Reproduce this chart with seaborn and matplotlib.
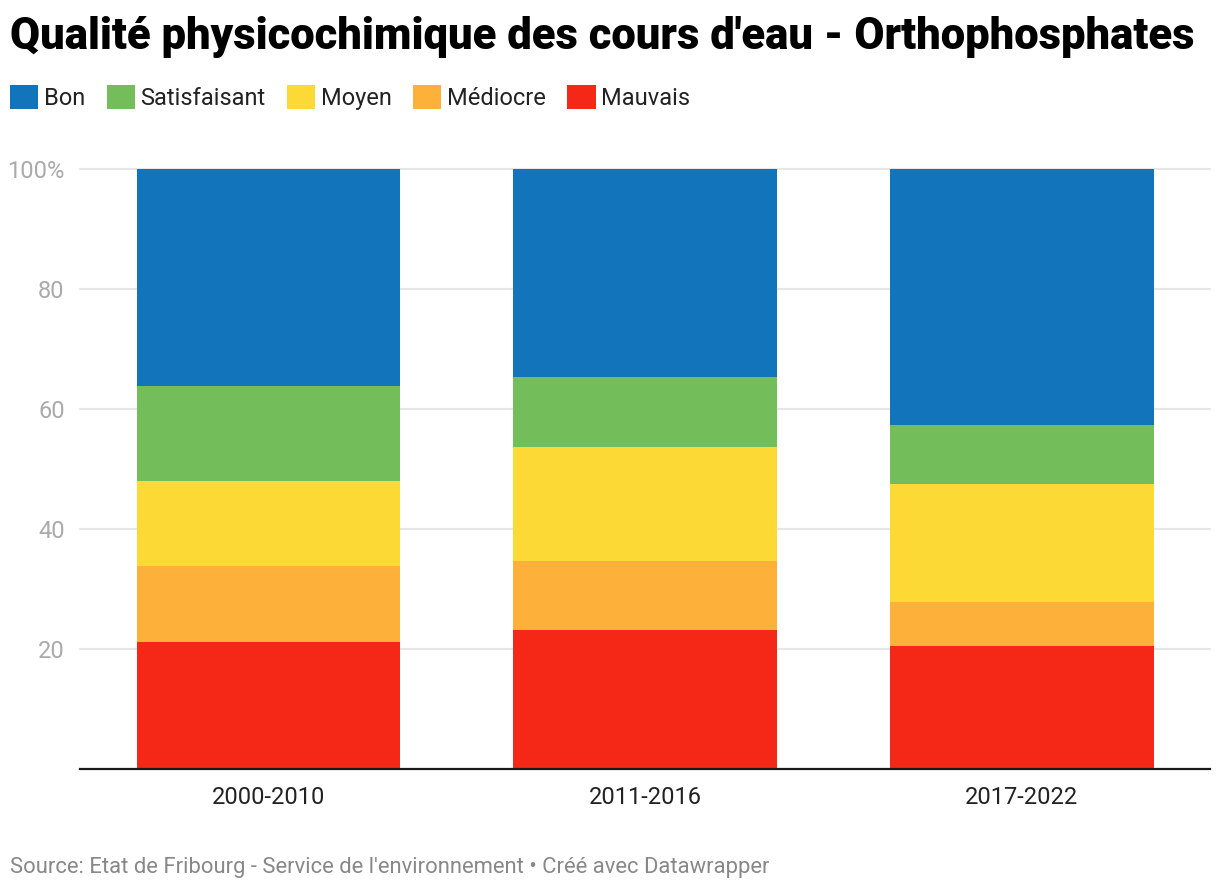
import numpy as np
import pandas as pd
import matplotlib.pyplot as plt
import seaborn as sb
from matplotlib.patches import Patch

# data (percent of stations per class)
periodes = ['2000-2010', '2011-2016', '2017-2022']
classes = ['Bon', 'Satisfaisant', 'Moyen', 'Médiocre', 'Mauvais']
bon = [36.2, 34.7, 42.7]
satisfaisant = [15.8, 11.6, 9.8]
moyen = [14.2, 19.0, 19.7]
mediocre = [12.6, 11.5, 7.3]
mauvais = [21.2, 23.2, 20.5]
couleurs = ['#1275bb', '#74bd5b', '#fdd935', '#fdb13b', '#f52818']

sb.set_style('white')
plt.rcParams['font.family'] = ['Roboto', 'DejaVu Sans']

df = pd.DataFrame({'periode': periodes, 'Bon': bon, 'Satisfaisant': satisfaisant,
                   'Moyen': moyen, 'Médiocre': mediocre, 'Mauvais': mauvais})

W, H = 1220, 890
fig = plt.figure(figsize=(W / 100, H / 100), dpi=100)
ax = fig.add_axes([80 / W, 121 / H, 1130 / W, 600 / H])

# stacked bars: draw cumulative totals from the top class down
ordre = classes[::-1]  # bottom -> top
cumul = df[ordre].cumsum(axis=1)
for cl in classes:
    sb.barplot(x=df['periode'], y=cumul[cl], color=couleurs[classes.index(cl)],
               width=0.7, saturation=1, linewidth=0, ax=ax)

ax.set_xlim(-0.5, 2.5)
ax.set_ylim(0, 100)
ax.set_yticks([20, 40, 60, 80, 100])
ax.set_yticklabels(['20', '40', '60', '80', '100%'])
ax.set_xlabel('')
ax.set_ylabel('')
ax.set_axisbelow(True)
ax.yaxis.grid(True, color='#e6e6e6', linewidth=1.5, clip_on=False)
for s in ['top', 'right', 'left']:
    ax.spines[s].set_visible(False)
ax.spines['bottom'].set_color('#1a1a1a')
ax.spines['bottom'].set_linewidth(1.6)
ax.spines['bottom'].set_zorder(5)
ax.tick_params(axis='y', length=0, pad=11, labelsize=17, labelcolor='#aaaaaa')
ax.tick_params(axis='x', length=0, pad=12, labelsize=17, labelcolor='#222222')

fig.text(10 / W, 1 - 49 / H, "Qualité physicochimique des cours d'eau - Orthophosphates",
         fontsize=31.4, fontweight='heavy', color='#000000', va='baseline', ha='left')

handles = [Patch(facecolor=c, edgecolor='none', label=l) for c, l in zip(couleurs, classes)]
fig.legend(handles=handles, loc='upper left', bbox_to_anchor=(10 / W, 1 - 85 / H), ncol=5,
           frameon=False, fontsize=17, handlelength=1.2, handleheight=1.2,
           handletextpad=0.22, columnspacing=0.92, borderaxespad=0, borderpad=0,
           labelcolor='#222222')

fig.text(10 / W, 1 - 873 / H,
         "Source: Etat de Fribourg - Service de l'environnement • Créé avec Datawrapper",
         fontsize=15.85, color='#888888', va='baseline', ha='left')

fig.savefig('out.png', dpi=100)
